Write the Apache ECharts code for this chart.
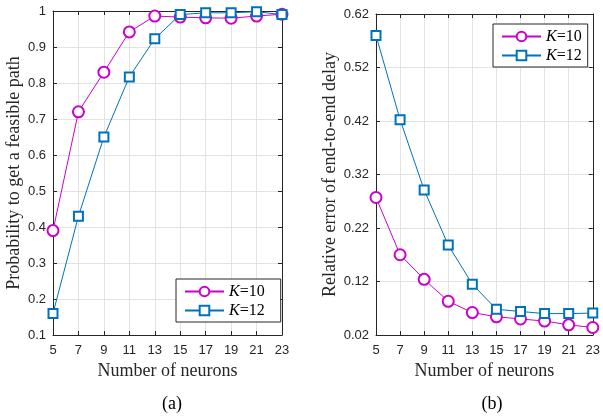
<!DOCTYPE html>
<html>
<head>
<meta charset="utf-8">
<script src="https://cdn.jsdelivr.net/npm/echarts@6/dist/echarts.min.js"></script>
<style>
  html, body { margin: 0; padding: 0; background: #fff; }
  #main { width: 603px; height: 416px; }
</style>
</head>
<body>
<div id="main"></div>
<script>
// number of neurons (x categories, shared by both plots)
var neurons = ['5', '7', '9', '11', '13', '15', '17', '19', '21', '23'];

// (a) probability to get a feasible path
var probK10 = [0.39, 0.72, 0.83, 0.942, 0.986, 0.983, 0.981, 0.980, 0.986, 0.991];
var probK12 = [0.16, 0.43, 0.65, 0.817, 0.923, 0.990, 0.995, 0.995, 0.998, 0.990];

// (b) relative error of end-to-end delay
var errK10 = [0.277, 0.170, 0.124, 0.083, 0.062, 0.054, 0.050, 0.046, 0.039, 0.034];
var errK12 = [0.580, 0.4225, 0.291, 0.188, 0.115, 0.068, 0.064, 0.060, 0.060, 0.061];

var probTicks = [0.1, 0.2, 0.3, 0.4, 0.5, 0.6, 0.7, 0.8, 0.9, 1];
var errTicks = [0.02, 0.12, 0.22, 0.32, 0.42, 0.52, 0.62];

var magenta = '#CC00CC', blue = '#0072BD';
var axisCol = '#262626', gridCol = '#E3E3E3';
var serif = '"Liberation Serif", "Times New Roman", serif';
var sans = '"Liberation Sans", Arial, sans-serif';

var chart = echarts.init(document.getElementById('main'), null, { renderer: 'canvas' });

function xAx(grid, top) {
  return {
    type: 'category', gridIndex: grid, data: neurons, boundaryGap: false,
    position: top ? 'top' : 'bottom',
    name: top ? '' : 'Number of neurons',
    nameLocation: 'middle', nameGap: 27,
    nameTextStyle: { fontFamily: serif, fontSize: 18, color: axisCol },
    axisLine: { show: true, lineStyle: { color: axisCol, width: 1 } },
    axisTick: { show: true, inside: true, length: 4, alignWithLabel: true, lineStyle: { color: axisCol } },
    axisLabel: { show: !top, fontFamily: sans, fontSize: 13, color: axisCol, margin: 9 },
    splitLine: { show: !top, lineStyle: { color: gridCol, width: 1 } }
  };
}

function yAx(grid, right, min, max, ticks, digits, name, gap) {
  return {
    type: 'value', gridIndex: grid, min: min, max: max, interval: 0.1,
    position: right ? 'right' : 'left',
    name: right ? '' : name,
    nameLocation: 'middle', nameGap: gap,
    nameTextStyle: { fontFamily: serif, fontSize: 18, color: axisCol },
    axisLine: { show: true, lineStyle: { color: axisCol, width: 1 } },
    axisTick: { show: true, inside: true, length: 4, customValues: ticks, lineStyle: { color: axisCol } },
    axisLabel: {
      show: !right, fontFamily: sans, fontSize: 13, color: axisCol, margin: 7,
      customValues: ticks,
      formatter: function (v) { return Math.abs(v - 1) < 1e-9 ? '1' : v.toFixed(digits); }
    },
    splitLine: { show: !right, lineStyle: { color: gridCol, width: 1 } }
  };
}

function line(name, data, color, symbol, size, xi, yi) {
  return {
    name: name, type: 'line', data: data, xAxisIndex: xi, yAxisIndex: yi,
    symbol: symbol, symbolSize: size, showAllSymbol: true,
    lineStyle: { color: color, width: 1 },
    itemStyle: { color: color, borderColor: color, borderWidth: 1 },
    emphasis: { disabled: true }, animation: false
  };
}

var legendText = {
  fontFamily: serif, fontSize: 16, color: '#000', lineHeight: 19,
  rich: { k: { fontFamily: serif, fontSize: 16, fontStyle: 'italic', color: '#000' } }
};
function legendFmt(n) { return '{k|K}=' + n.split('=')[1]; }

var option = {
  backgroundColor: '#fff',
  animation: false,
  grid: [
    { left: 53, top: 11, width: 229, height: 324 },
    { left: 376, top: 14, width: 223, height: 321 }
  ],
  xAxis: [xAx(0, false), xAx(0, true), xAx(1, false), xAx(1, true)],
  yAxis: [
    yAx(0, false, 0.1, 1, probTicks, 1, 'Probability to get a feasible path', 30),
    yAx(0, true, 0.1, 1, probTicks, 1, '', 30),
    yAx(1, false, 0.02, 0.62, errTicks, 2, 'Relative error of end-to-end delay', 37),
    yAx(1, true, 0.02, 0.62, errTicks, 2, '', 37)
  ],
  legend: [
    {
      data: ['K=10', 'K=12'].map(function (n) { return { name: n }; }),
      left: 176, top: 279, orient: 'vertical',
      itemWidth: 39, itemHeight: 12, itemGap: 0,
      padding: [3, 16, 2, 8],
      backgroundColor: '#fff', borderColor: axisCol, borderWidth: 1, borderRadius: 0,
      formatter: legendFmt, textStyle: legendText, selectedMode: false
    },
    {
      data: ['K=10 ', 'K=12 '].map(function (n) { return { name: n }; }),
      left: 493, top: 24, orient: 'vertical',
      itemWidth: 39, itemHeight: 12, itemGap: 0,
      padding: [3, 6, 2, 8],
      backgroundColor: '#fff', borderColor: axisCol, borderWidth: 1, borderRadius: 0,
      formatter: function (n) { return legendFmt(n.trim()); }, textStyle: legendText, selectedMode: false
    }
  ],
  title: [
    { text: '(a)', left: 167, top: 390, textAlign: 'center',
      textStyle: { fontFamily: serif, fontSize: 18, fontWeight: 'normal', color: '#000' } },
    { text: '(b)', left: 487, top: 390, textAlign: 'center',
      textStyle: { fontFamily: serif, fontSize: 18, fontWeight: 'normal', color: '#000' } }
  ],
  series: [
    line('K=10', probK10, magenta, 'emptyCircle', 11, 0, 0),
    line('K=12', probK12, blue, 'emptyRect', 9, 0, 0),
    line('K=10 ', errK10, magenta, 'emptyCircle', 11, 2, 2),
    line('K=12 ', errK12, blue, 'emptyRect', 9, 2, 2)
  ]
};

chart.setOption(option);
</script>
</body>
</html>
